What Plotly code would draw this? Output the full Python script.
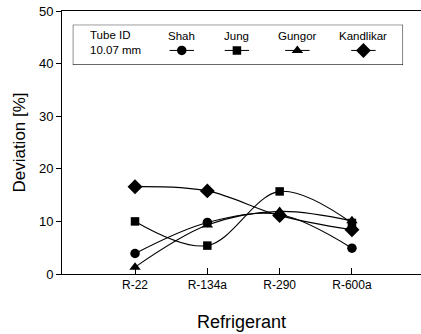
import plotly.graph_objects as go

refrigerants = ["R-22", "R-134a", "R-290", "R-600a"]
series_names = ["Shah", "Jung", "Gungor", "Kandlikar"]
shah = [3.9, 9.8, 11.3, 4.9]
jung = [10.0, 5.4, 15.7, 9.7]
gungor = [1.3, 9.3, 11.9, 10.1]
kandlikar = [16.6, 15.8, 11.1, 8.4]
y_ticks = [0, 10, 20, 30, 40, 50]
legend_note = "Tube ID<br>10.07 mm"

values = [shah, jung, gungor, kandlikar]
symbols = ["circle", "square", "triangle-up", "diamond"]
sizes = [9.5, 8.5, 10, 11.5]
FONT = "Liberation Sans, Arial, sans-serif"

fig = go.Figure()
for name, vals, sym, sz in zip(series_names, values, symbols, sizes):
    fig.add_trace(go.Scatter(
        x=refrigerants, y=vals, mode="lines+markers", name=name,
        line=dict(color="black", width=1.1, shape="spline", smoothing=1.0),
        marker=dict(symbol=sym, size=sz, color="black"),
        showlegend=False, cliponaxis=False,
    ))

# legend keys drawn on a hidden helper axis (0..1 coordinates inside the box)
key_x = [0.33, 0.497, 0.68, 0.88]
for name, sym, sz, kx in zip(series_names, symbols, sizes, key_x):
    fig.add_trace(go.Scatter(
        x=[kx - 0.037, kx, kx + 0.037], y=[0.36, 0.36, 0.36],
        mode="lines", line=dict(color="black", width=1),
        xaxis="x2", yaxis="y2", showlegend=False, hoverinfo="skip"))
    fig.add_trace(go.Scatter(
        x=[kx], y=[0.36], mode="markers",
        marker=dict(symbol=sym, size=sz, color="black"),
        xaxis="x2", yaxis="y2", showlegend=False, hoverinfo="skip"))
    fig.add_annotation(x=kx, y=0.72, xref="x2", yref="y2", text=name,
                       showarrow=False, yanchor="middle",
                       font=dict(size=11.5, color="black", family=FONT))

fig.add_annotation(x=0.045, y=0.56, xref="x2", yref="y2", text=legend_note,
                   showarrow=False, xanchor="left", align="left",
                   font=dict(size=11.5, color="black", family=FONT))

fig.update_layout(
    width=421, height=334,
    margin=dict(l=62, r=0, t=11, b=60),
    paper_bgcolor="white", plot_bgcolor="white",
    font=dict(family=FONT, color="black"),
    xaxis=dict(
        type="category", range=[-1.01, 3.955],
        showline=True, linecolor="black", linewidth=1, mirror=True,
        ticks="inside", ticklen=6, tickcolor="black",
        tickfont=dict(size=12), showgrid=False, zeroline=False,
        title=dict(text="Refrigerant", font=dict(size=18), standoff=23),
    ),
    yaxis=dict(
        range=[0, 50], tickvals=y_ticks,
        showline=True, linecolor="black", linewidth=1,
        ticks="outside", ticklen=5, tickcolor="black",
        tickfont=dict(size=13), showgrid=False, zeroline=False,
        title=dict(text="Deviation [%]", font=dict(size=17), standoff=8),
    ),
    xaxis2=dict(domain=[0.03, 0.95], range=[0, 1], visible=False,
                anchor="y2", fixedrange=True),
    yaxis2=dict(domain=[0.795, 0.948], range=[0, 1], visible=False,
                anchor="x2", fixedrange=True),
    showlegend=False,
)
fig.add_shape(type="rect", xref="x2", yref="y2", x0=0, x1=1, y0=0, y1=1,
              line=dict(color="black", width=1))

fig.write_html("out.html")
